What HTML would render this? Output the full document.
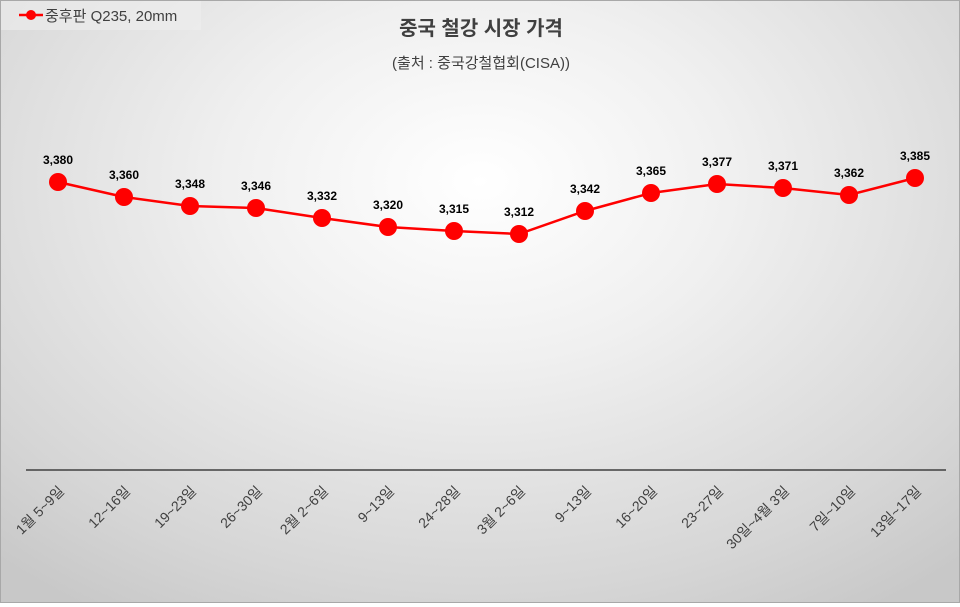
<!DOCTYPE html>
<html><head><meta charset="utf-8"><style>
html,body{margin:0;padding:0}
body{width:960px;height:603px;overflow:hidden;font-family:"Liberation Sans","Noto Sans CJK KR",sans-serif}
#c{position:absolute;left:0;top:0;width:958px;height:601px;border:1px solid #a8a8a8;background:radial-gradient(ellipse 75% 85% at 50% 30%,#ffffff 0%,#f0f0f0 35%,#d6d6d6 80%,#c8c8c8 100%)}
</style></head><body><div id="c">
<svg width="958" height="601" xmlns="http://www.w3.org/2000/svg" font-family="Liberation Sans, Noto Sans CJK KR, sans-serif">
<rect x="0" y="0" width="200" height="29" fill="#eeeeee" opacity="0.6"/>
<line x1="18" y1="14" x2="42" y2="14" stroke="#ff0000" stroke-width="2.5"/>
<circle cx="30" cy="14" r="5" fill="#ff0000"/>
<text x="44" y="20" font-size="15" fill="#404040">중후판 Q235, 20mm</text>
<text x="480" y="34" font-size="20" font-weight="bold" fill="#404040" text-anchor="middle">중국 철강 시장 가격</text>
<text x="480" y="67" font-size="15" fill="#404040" text-anchor="middle">(출처 : 중국강철협회(CISA))</text>
<line x1="25" y1="469" x2="945" y2="469" stroke="#404040" stroke-width="1.5"/>
<polyline fill="none" stroke="#ff0000" stroke-width="2.5" points="57,181 123,196 189,205 255,207 321,217 387,226 453,230 518,233 584,210 650,192 716,183 782,187 848,194 914,177"/>
<g fill="#ff0000">
<circle cx="57" cy="181" r="9"/><circle cx="123" cy="196" r="9"/><circle cx="189" cy="205" r="9"/><circle cx="255" cy="207" r="9"/><circle cx="321" cy="217" r="9"/><circle cx="387" cy="226" r="9"/><circle cx="453" cy="230" r="9"/><circle cx="518" cy="233" r="9"/><circle cx="584" cy="210" r="9"/><circle cx="650" cy="192" r="9"/><circle cx="716" cy="183" r="9"/><circle cx="782" cy="187" r="9"/><circle cx="848" cy="194" r="9"/><circle cx="914" cy="177" r="9"/>
</g>
<g font-size="12" font-weight="bold" fill="#000" text-anchor="middle">
<text x="57" y="163">3,380</text><text x="123" y="178">3,360</text><text x="189" y="187">3,348</text><text x="255" y="189">3,346</text><text x="321" y="199">3,332</text><text x="387" y="208">3,320</text><text x="453" y="212">3,315</text><text x="518" y="215">3,312</text><text x="584" y="192">3,342</text><text x="650" y="174">3,365</text><text x="716" y="165">3,377</text><text x="782" y="169">3,371</text><text x="848" y="176">3,362</text><text x="914" y="159">3,385</text>
</g>
<g font-size="14" fill="#404040" text-anchor="end">
<text transform="translate(64,491) rotate(-45)">1월 5~9일</text>
<text transform="translate(130,491) rotate(-45)">12~16일</text>
<text transform="translate(196,491) rotate(-45)">19~23일</text>
<text transform="translate(262,491) rotate(-45)">26~30일</text>
<text transform="translate(328,491) rotate(-45)">2월 2~6일</text>
<text transform="translate(394,491) rotate(-45)">9~13일</text>
<text transform="translate(460,491) rotate(-45)">24~28일</text>
<text transform="translate(525,491) rotate(-45)">3월 2~6일</text>
<text transform="translate(591,491) rotate(-45)">9~13일</text>
<text transform="translate(657,491) rotate(-45)">16~20일</text>
<text transform="translate(723,491) rotate(-45)">23~27일</text>
<text transform="translate(789,491) rotate(-45)">30일~4월 3일</text>
<text transform="translate(855,491) rotate(-45)">7일~10일</text>
<text transform="translate(921,491) rotate(-45)">13일~17일</text>
</g>
</svg></div></body></html>
